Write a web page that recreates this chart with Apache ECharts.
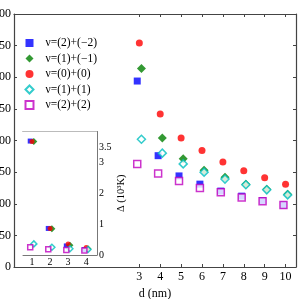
<!DOCTYPE html>
<html><head><meta charset="utf-8">
<script src="https://cdn.jsdelivr.net/npm/echarts@6/dist/echarts.min.js"></script>
<style>html,body{margin:0;padding:0;background:#fff}#c{width:299px;height:299px}</style>
</head><body><div id="c"></div><script>
// Main chart: d (nm) vs Δ (K)
const d = [3, 4, 5, 6, 7, 8, 9, 10];
const names = ['ν=(2)+(−2)', 'ν=(1)+(−1)', 'ν=(0)+(0)', 'ν=(1)+(1)', 'ν=(2)+(2)'];
const blueVals = [294, 176, 144, 131, 120, 112, 105, 98];
const greenVals = [314, 204, 171, 153, 142, 131, 123, 115];
const redVals = [354, 242, 204, 184, 166, 152, 141, 131];
const cyanVals = [202, 180, 163, 150, 139, 130, 122, 114];
const magentaVals = [163, 148, 136, 125, 118, 110, 104, 98];
// small horizontal jitter of each series in the original figure (in d units)
const jitter = [-0.1, 0.1, 0, 0.1, -0.1];
// Inset: d = 1..4 vs Δ (10^3 K)
const insetD = [1, 2, 3, 4];
const insetBlue = [3.69, 0.86, 0.294, 0.176];
const insetGreen = [3.68, 0.85, 0.314, 0.204];
const insetRed = [3.68, 0.86, 0.354, 0.242];
const insetCyan = [0.36, 0.25, 0.202, 0.180];
const insetMagenta = [0.25, 0.19, 0.163, 0.148];
const mainTicks = [3, 4, 5, 6, 7, 8, 9, 10];
const insetXTicks = [1, 2, 3, 4];
const insetYTicks = [0, 1, 2, 3, 3.5];

const F = 'Liberation Serif';
const axisCol = '#444';
const styles = [
  {symbol: 'rect', size: 7, itemStyle: {color: '#0000ff'}},
  {symbol: 'diamond', size: 9, itemStyle: {color: '#008000'}},
  {symbol: 'circle', size: 7, itemStyle: {color: '#ff0000'}},
  {symbol: 'diamond', size: 8, itemStyle: {color: '#ffffff', borderColor: '#00bfbf', borderWidth: 1.5}},
  {symbol: 'rect', size: 7, itemStyle: {color: '#ffffff', borderColor: '#bf00bf', borderWidth: 1.5}}
];
const mainVals = [blueVals, greenVals, redVals, cyanVals, magentaVals];
const insetVals = [insetBlue, insetGreen, insetRed, insetCyan, insetMagenta];

const series = [];
mainVals.forEach((vals, k) => {
  series.push({
    name: names[k], type: 'scatter', xAxisIndex: 0, yAxisIndex: 0,
    symbol: styles[k].symbol, symbolSize: styles[k].size, itemStyle: styles[k].itemStyle,
    data: d.map((x, i) => [x + jitter[k], vals[i]]), z: 3
  });
});
insetVals.forEach((vals, k) => {
  series.push({
    name: names[k], type: 'scatter', xAxisIndex: 2, yAxisIndex: 2,
    symbol: styles[k].symbol, symbolSize: styles[k].size - 2, itemStyle: styles[k].itemStyle,
    data: insetD.map((x, i) => [x + jitter[k], vals[i]]), z: 6
  });
});

const lbl = {fontFamily: F, fontSize: 12, color: '#000'};
const legendCommon = {orient: 'vertical', top: 37, padding: 0, itemWidth: 8, itemHeight: 8, itemGap: 3.5,
  selectedMode: false};
const chart = echarts.init(document.getElementById('c'), null, {renderer: 'canvas'});
chart.setOption({
  animation: false,
  backgroundColor: '#fff',
  grid: [
    {left: 14, right: 3, top: 14, bottom: 32, containLabel: false, outerBoundsMode: 'none'},
    {left: 23, right: 202, top: 131.5, bottom: 44, containLabel: false, outerBoundsMode: 'none',
     show: true, backgroundColor: '#fff', borderWidth: 0, z: 5}
  ],
  legend: [
    // icons only
    Object.assign({data: names, left: 24.5,
      textStyle: {fontFamily: F, fontSize: 11.5, color: 'rgba(0,0,0,0)', lineHeight: 12}}, legendCommon),
    // texts only
    Object.assign({data: names.map(n => ({name: n, icon: 'none'})), left: 32.5,
      textStyle: {fontFamily: F, fontSize: 11.5, color: '#000', lineHeight: 12}}, legendCommon)
  ],
  xAxis: [
    {gridIndex: 0, type: 'value', min: -3, max: 10.5, position: 'bottom',
     name: 'd (nm)', nameLocation: 'middle', nameGap: 13, nameTextStyle: lbl,
     axisLine: {onZero: false, lineStyle: {color: axisCol, width: 1.2}},
     axisTick: {inside: true, length: 3, customValues: mainTicks, lineStyle: {color: axisCol}},
     axisLabel: Object.assign({customValues: mainTicks, margin: 4}, lbl),
     splitLine: {show: false}},
    {gridIndex: 0, type: 'value', min: -3, max: 10.5, position: 'top',
     axisLine: {onZero: false, lineStyle: {color: axisCol, width: 1.2}},
     axisTick: {inside: true, length: 3, customValues: mainTicks, lineStyle: {color: axisCol}},
     axisLabel: {show: false}, splitLine: {show: false}},
    {gridIndex: 1, type: 'value', min: 0.5, max: 4.6, position: 'bottom',
     axisLine: {onZero: false, lineStyle: {color: '#777'}},
     axisTick: {inside: true, length: 2, customValues: insetXTicks, lineStyle: {color: '#777'}},
     axisLabel: Object.assign({customValues: insetXTicks, margin: 2}, lbl, {fontSize: 10}),
     splitLine: {show: false}},
    {gridIndex: 1, type: 'value', min: 0.5, max: 4.6, position: 'top',
     axisLine: {onZero: false, lineStyle: {color: '#777'}},
     axisTick: {inside: true, length: 2, customValues: insetXTicks, lineStyle: {color: '#777'}},
     axisLabel: {show: false}, splitLine: {show: false}}
  ],
  yAxis: [
    {gridIndex: 0, type: 'value', min: 0, max: 400, interval: 50, position: 'left',
     axisLine: {show: true, onZero: false, lineStyle: {color: axisCol, width: 1.2}},
     axisTick: {show: true, inside: true, length: 3, lineStyle: {color: axisCol}},
     axisLabel: Object.assign({margin: 3}, lbl), splitLine: {show: false}},
    {gridIndex: 0, type: 'value', min: 0, max: 400, interval: 50, position: 'right',
     axisLine: {show: true, onZero: false, lineStyle: {color: axisCol, width: 1.2}},
     axisTick: {show: true, inside: true, length: 3, lineStyle: {color: axisCol}},
     axisLabel: {show: false}, splitLine: {show: false}},
    {gridIndex: 1, type: 'value', min: 0, max: 4, position: 'right',
     name: 'Δ (10³K)', nameLocation: 'middle', nameGap: 12, nameRotate: 90,
     nameTextStyle: Object.assign({}, lbl, {fontSize: 10.5}),
     axisLine: {show: true, onZero: false, lineStyle: {color: '#777'}},
     axisTick: {show: true, inside: true, length: 2, customValues: insetYTicks, lineStyle: {color: '#777'}},
     axisLabel: Object.assign({customValues: insetYTicks, margin: 2}, lbl, {fontSize: 10}),
     splitLine: {show: false}},
    {gridIndex: 1, type: 'value', min: 0, max: 4, position: 'left',
     axisLine: {show: true, onZero: false, lineStyle: {color: '#777'}},
     axisTick: {show: true, inside: true, length: 2, customValues: insetYTicks, lineStyle: {color: '#777'}},
     axisLabel: {show: false}, splitLine: {show: false}}
  ],
  series: series
});
</script></body></html>
